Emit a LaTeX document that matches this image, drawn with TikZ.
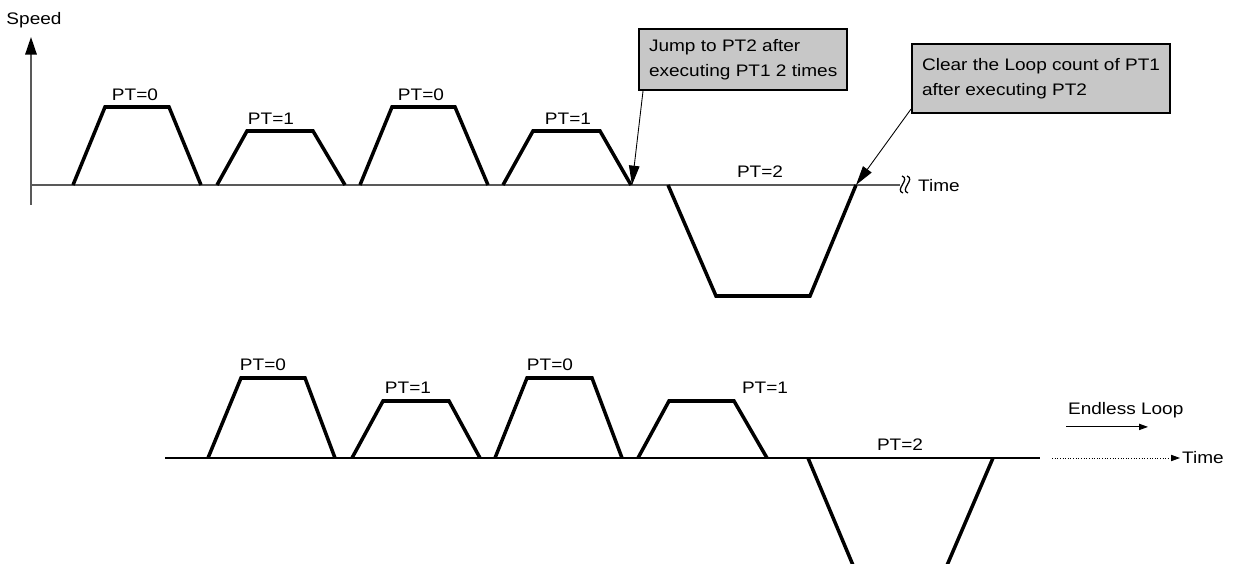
\documentclass[tikz,border=0pt]{standalone}
\usepackage{fontspec}
\setmainfont{Liberation Sans}[FakeStretch=1.14]
\usetikzlibrary{arrows.meta}

\begin{document}
\begin{tikzpicture}[
  x=0.02cm, y=-0.02cm,
  axis/.style={draw=black!65, line width=1pt},
  baseline/.style={draw=black, line width=0.8pt},
  profile/.style={draw=black, line width=2pt, line join=miter},
  lbl/.style={font=\fontsize{9.5}{11}\selectfont, inner sep=1pt},
  note/.style={rectangle, draw=black, line width=1.2pt, fill=black!22, anchor=north west, align=left, inner xsep=0.2cm, font=\fontsize{9.5}{14.2}\selectfont},
  pointer/.style={line width=0.5pt, -{Triangle[length=11pt, width=6pt]}},
  tip/.style={-{Triangle[length=10pt, width=6.5pt, color=black]}},
  small tip/.style={-{Triangle[length=5pt, width=3.5pt]}},
  wave/.style={line width=0.7pt}
]
\useasboundingbox (0,0) rectangle (1235,564);

% Upper run
\draw [axis, tip] (31,205) -- (31,37);
\draw [axis] (31,185) -- (900,185);
\node (spd) [lbl] at (34,20) {Speed};
\coordinate (brk) at (902,185);
\draw [wave] ([shift={(0,-9)}]brk) .. controls +(9,3) and +(-9,-3) .. ([shift={(1,8)}]brk);
\draw [wave] ([shift={(5,-9)}]brk) .. controls +(9,3) and +(-9,-3) .. ([shift={(6,8)}]brk);
\node (time1) [lbl, anchor=west] at (916,186) {Time};

\draw [profile] (73,185) -- (105,107) -- (169,107) -- (201,185);
\draw [profile] (217,185) -- (247,131) -- (313,131) -- (345,185);
\draw [profile] (360,185) -- (392,107) -- (455,107) -- (488,185);
\draw [profile] (503,185) -- (533,131) -- (600,131) -- (631,185);
\draw [profile] (668,185) -- (716,296) -- (810,296) -- (856,185);

\node (a0) [lbl] at (135,95) {PT=0};
\node (a1) [lbl] at (271,119) {PT=1};
\node (a2) [lbl] at (421,95) {PT=0};
\node (a3) [lbl] at (568,119) {PT=1};
\node (a4) [lbl] at (760,172) {PT=2};

% Callouts
\node (note1) [note, minimum height=1.22cm] at (638,28) {Jump to PT2 after\\executing PT1 2 times};
\node (note2) [note, minimum height=1.38cm] at (911,43) {Clear the Loop count of PT1\\after executing PT2};
\coordinate (jump) at (632,185);
\coordinate (clear) at (856,185);
\draw [pointer] ([xshift=0.1cm]note1.south west) -- (jump);
\draw [pointer] ([yshift=0.1cm]note2.south west) -- (clear);

% Lower run
\draw [baseline] (165,458) -- (1040,458);
\draw [profile] (208,458) -- (241,378) -- (305,378) -- (335,458);
\draw [profile] (352,458) -- (383,401) -- (449,401) -- (480,458);
\draw [profile] (495,458) -- (527,378) -- (592,378) -- (622,458);
\draw [profile] (638,458) -- (669,401) -- (734,401) -- (767,458);
\draw [profile] (808,458) -- (855,570);
\draw [profile] (945,570) -- (993,458);

\node (b0) [lbl] at (263,365) {PT=0};
\node (b1) [lbl] at (408,388) {PT=1};
\node (b2) [lbl] at (550,365) {PT=0};
\node (b3) [lbl] at (765,388) {PT=1};
\node (b4) [lbl] at (900,445) {PT=2};

\coordinate (dots) at (1052,458);
\node (time2) [lbl, anchor=west] at (1180,458) {Time};
\draw [line width=0.5pt, densely dotted, small tip] (dots) -- (time2.west);
\node (loop) [lbl, anchor=west] at (1066,410) {Endless Loop};
\draw [line width=0.5pt, small tip] ([yshift=-4pt]loop.south west) -- +(82,0);
\end{tikzpicture}
\end{document}
